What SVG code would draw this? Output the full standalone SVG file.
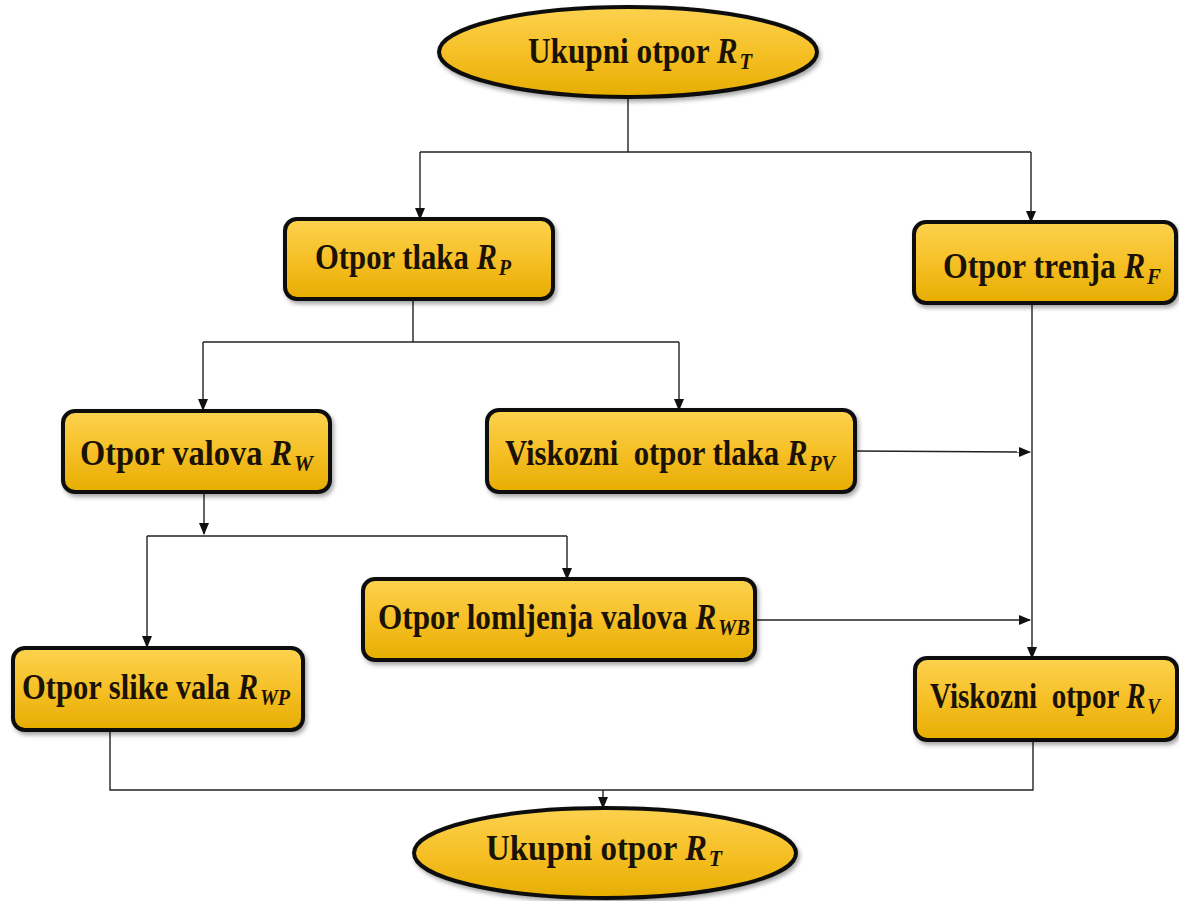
<svg xmlns="http://www.w3.org/2000/svg" width="1179" height="901" viewBox="0 0 1179 901">
<defs>
<linearGradient id="gold" x1="0" y1="0" x2="0" y2="1">
<stop offset="0" stop-color="#fcd24e"/>
<stop offset="0.5" stop-color="#f6c027"/>
<stop offset="1" stop-color="#e6ad00"/>
</linearGradient>
<filter id="sh" x="-10%" y="-10%" width="125%" height="140%">
<feDropShadow dx="2" dy="3" stdDeviation="2" flood-color="#000" flood-opacity="0.35"/>
</filter>
<marker id="arr" markerUnits="userSpaceOnUse" markerWidth="12" markerHeight="12" viewBox="0 0 12 12" refX="11" refY="6" orient="auto">
<path d="M0 1 L12 6 L0 11 Z" fill="#111"/>
</marker>
</defs>
<style>
.n{fill:url(#gold);stroke:#0d0d0d;stroke-width:4;filter:url(#sh)}
.t{font-family:"Liberation Serif","Times New Roman",serif;font-weight:bold;font-size:35px;fill:#1a1205}
.i{font-style:italic}
.s{font-style:italic;font-size:23px}
.c{fill:none;stroke:#222;stroke-width:1.4}
</style>
<rect width="1179" height="901" fill="#fff"/>
<g id="connectors">
<path class="c" d="M628 97 V152 M420 152 H1031"/>
<path class="c" d="M420 152 V219" marker-end="url(#arr)"/>
<path class="c" d="M1031 152 V222" marker-end="url(#arr)"/>
<path class="c" d="M413 299 V342 M203 342 H679"/>
<path class="c" d="M203 342 V410" marker-end="url(#arr)"/>
<path class="c" d="M679 342 V410" marker-end="url(#arr)"/>
<path class="c" d="M1032 303 V658" marker-end="url(#arr)"/>
<path class="c" d="M855 451 L1030 452" marker-end="url(#arr)"/>
<path class="c" d="M204 492 V534" marker-end="url(#arr)"/>
<path class="c" d="M147 536 H567"/>
<path class="c" d="M147 536 V647" marker-end="url(#arr)"/>
<path class="c" d="M567 536 V579" marker-end="url(#arr)"/>
<path class="c" d="M755 620 H1030" marker-end="url(#arr)"/>
<path class="c" d="M110 730 V790 H1033 V740"/>
<path class="c" d="M603 790 V808" marker-end="url(#arr)"/>
</g>
<g id="n1">
<ellipse class="n" cx="628" cy="52" rx="189" ry="45"/>
<text class="t" x="528" y="63" textLength="224" lengthAdjust="spacingAndGlyphs">Ukupni otpor <tspan class="i">R</tspan><tspan class="s" dx="2" dy="6">T</tspan></text>
</g>
<g id="n2">
<rect class="n" x="285" y="219" width="268" height="80" rx="12"/>
<text class="t" x="315" y="269" textLength="196" lengthAdjust="spacingAndGlyphs">Otpor tlaka <tspan class="i">R</tspan><tspan class="s" dx="2" dy="6">P</tspan></text>
</g>
<g id="n3">
<rect class="n" x="914" y="222" width="262" height="81" rx="12"/>
<text class="t" x="943" y="278" textLength="218" lengthAdjust="spacingAndGlyphs">Otpor trenja <tspan class="i">R</tspan><tspan class="s" dx="2" dy="6">F</tspan></text>
</g>
<g id="n4">
<rect class="n" x="63" y="411" width="267" height="81" rx="12"/>
<text class="t" x="80" y="465" textLength="233" lengthAdjust="spacingAndGlyphs">Otpor valova <tspan class="i">R</tspan><tspan class="s" dx="2" dy="6">W</tspan></text>
</g>
<g id="n5">
<rect class="n" x="487" y="410" width="368" height="82" rx="12"/>
<text class="t" x="505" y="465" textLength="330" lengthAdjust="spacingAndGlyphs">Viskozni&#160; otpor tlaka <tspan class="i">R</tspan><tspan class="s" dx="2" dy="6">PV</tspan></text>
</g>
<g id="n6">
<rect class="n" x="363" y="579" width="392" height="81" rx="12"/>
<text class="t" x="378" y="629" textLength="372" lengthAdjust="spacingAndGlyphs">Otpor lomljenja valova <tspan class="i">R</tspan><tspan class="s" dx="2" dy="6">WB</tspan></text>
</g>
<g id="n7">
<rect class="n" x="13" y="648" width="290" height="82" rx="12"/>
<text class="t" x="22" y="699" textLength="268" lengthAdjust="spacingAndGlyphs">Otpor slike vala <tspan class="i">R</tspan><tspan class="s" dx="2" dy="6">WP</tspan></text>
</g>
<g id="n8">
<rect class="n" x="915" y="658" width="262" height="82" rx="12"/>
<text class="t" x="930" y="708" textLength="230" lengthAdjust="spacingAndGlyphs">Viskozni&#160; otpor <tspan class="i">R</tspan><tspan class="s" dx="2" dy="6">V</tspan></text>
</g>
<g id="n9">
<ellipse class="n" cx="605" cy="853" rx="191" ry="45"/>
<text class="t" x="486" y="860" textLength="236" lengthAdjust="spacingAndGlyphs">Ukupni otpor <tspan class="i">R</tspan><tspan class="s" dx="2" dy="6">T</tspan></text>
</g>
</svg>
